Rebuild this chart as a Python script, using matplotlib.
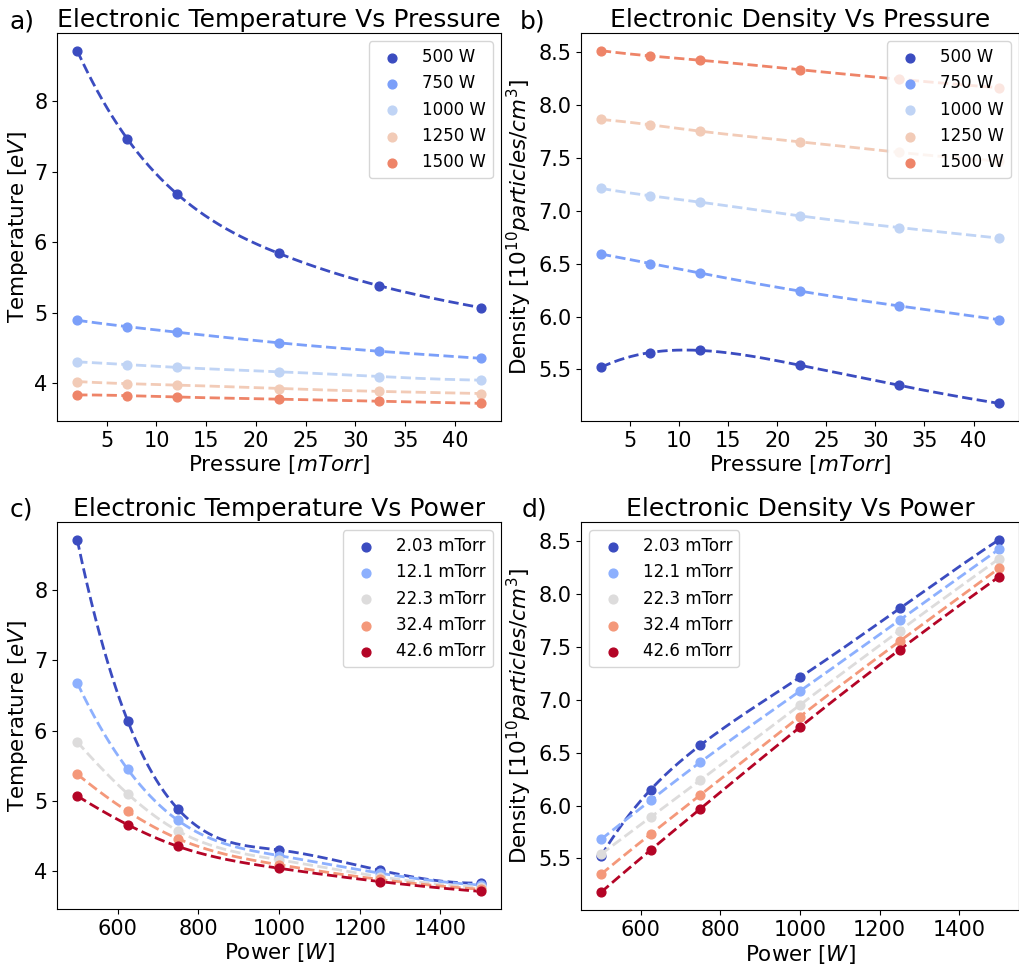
import numpy as np
import matplotlib
matplotlib.use("Agg")
import matplotlib.pyplot as plt

# Operating points
pressures_mtorr = [2.03, 7.05, 12.1, 22.3, 32.4, 42.6]
powers_w = [500, 625, 750, 1000, 1250, 1500]

# Electron temperature [eV] vs pressure, one series per power
power_labels = ["500 W", "750 W", "1000 W", "1250 W", "1500 W"]
te_500w = [8.72, 7.47, 6.68, 5.84, 5.38, 5.07]
te_750w = [4.89, 4.80, 4.72, 4.57, 4.45, 4.35]
te_1000w = [4.30, 4.26, 4.22, 4.16, 4.09, 4.04]
te_1250w = [4.02, 3.99, 3.97, 3.92, 3.88, 3.85]
te_1500w = [3.83, 3.82, 3.80, 3.77, 3.74, 3.71]

# Electron density [1e10 cm^-3] vs pressure, one series per power
ne_500w = [5.52, 5.66, 5.68, 5.54, 5.35, 5.18]
ne_750w = [6.59, 6.50, 6.41, 6.24, 6.10, 5.97]
ne_1000w = [7.21, 7.14, 7.08, 6.95, 6.84, 6.74]
ne_1250w = [7.86, 7.81, 7.75, 7.65, 7.55, 7.47]
ne_1500w = [8.51, 8.46, 8.42, 8.33, 8.24, 8.16]

# Electron temperature [eV] vs power, one series per pressure
pressure_labels = ["2.03 mTorr", "12.1 mTorr", "22.3 mTorr", "32.4 mTorr", "42.6 mTorr"]
te_2p03 = [8.72, 6.14, 4.88, 4.30, 4.01, 3.83]
te_12p1 = [6.68, 5.45, 4.72, 4.22, 3.97, 3.80]
te_22p3 = [5.84, 5.10, 4.57, 4.16, 3.92, 3.77]
te_32p4 = [5.38, 4.85, 4.46, 4.09, 3.88, 3.74]
te_42p6 = [5.07, 4.66, 4.35, 4.04, 3.85, 3.71]

# Electron density [1e10 cm^-3] vs power, one series per pressure
ne_2p03 = [5.52, 6.15, 6.57, 7.21, 7.86, 8.51]
ne_12p1 = [5.68, 6.05, 6.41, 7.08, 7.75, 8.42]
ne_22p3 = [5.54, 5.89, 6.24, 6.95, 7.65, 8.33]
ne_32p4 = [5.35, 5.73, 6.10, 6.84, 7.55, 8.24]
ne_42p6 = [5.18, 5.58, 5.97, 6.74, 7.47, 8.16]

pressure_ticks = [5, 10, 15, 20, 25, 30, 35, 40]
temperature_ticks = [4, 5, 6, 7, 8]


def cubic_spline(x, y, n=400):
    """Not-a-knot cubic spline through (x, y), evaluated on a fine grid."""
    x = np.asarray(x, float)
    y = np.asarray(y, float)
    m = len(x)
    h = np.diff(x)
    A = np.zeros((m, m))
    b = np.zeros(m)
    for i in range(1, m - 1):
        A[i, i - 1] = h[i - 1]
        A[i, i] = 2 * (h[i - 1] + h[i])
        A[i, i + 1] = h[i]
        b[i] = 6 * ((y[i + 1] - y[i]) / h[i] - (y[i] - y[i - 1]) / h[i - 1])
    # not-a-knot end conditions
    A[0, 0] = -1 / h[0]
    A[0, 1] = 1 / h[0] + 1 / h[1]
    A[0, 2] = -1 / h[1]
    A[-1, -3] = -1 / h[-2]
    A[-1, -2] = 1 / h[-2] + 1 / h[-1]
    A[-1, -1] = -1 / h[-1]
    M = np.linalg.solve(A, b)
    xs = np.linspace(x[0], x[-1], n)
    idx = np.clip(np.searchsorted(x, xs) - 1, 0, m - 2)
    x0, x1 = x[idx], x[idx + 1]
    hh = x1 - x0
    t0 = x1 - xs
    t1 = xs - x0
    ys = (M[idx] * t0 ** 3 / (6 * hh) + M[idx + 1] * t1 ** 3 / (6 * hh)
          + (y[idx] / hh - M[idx] * hh / 6) * t0
          + (y[idx + 1] / hh - M[idx + 1] * hh / 6) * t1)
    return xs, ys


W, H = 1020, 965
fig = plt.figure(figsize=(W / 100, H / 100), dpi=100)


def add_axes(left, top, right, bottom):
    return fig.add_axes([left / W, 1 - bottom / H, (right - left) / W, (bottom - top) / H])


ax_a = add_axes(57, 33, 501, 421)
ax_b = add_axes(581, 33, 1019, 421)
ax_c = add_axes(57, 522, 501, 909)
ax_d = add_axes(581, 522, 1019, 910)

power_colors = plt.cm.coolwarm(np.linspace(0, 1, 6))[:5]
pressure_colors = plt.cm.coolwarm(np.linspace(0, 1, 5))

density_label = r"Density [$10^{10} particles/cm^3$]"
temp_label = r"Temperature [$eV$]"

panels = [
    (ax_a, pressures_mtorr, [te_500w, te_750w, te_1000w, te_1250w, te_1500w],
     power_labels, power_colors, "Electronic Temperature Vs Pressure",
     r"Pressure [$mTorr$]", temp_label, "upper right", "a)", 10, 28),
    (ax_b, pressures_mtorr, [ne_500w, ne_750w, ne_1000w, ne_1250w, ne_1500w],
     power_labels, power_colors, "Electronic Density Vs Pressure",
     r"Pressure [$mTorr$]", density_label, "upper right", "b)", 520, 28),
    (ax_c, powers_w, [te_2p03, te_12p1, te_22p3, te_32p4, te_42p6],
     pressure_labels, pressure_colors, "Electronic Temperature Vs Power",
     r"Power [$W$]", temp_label, "upper right", "c)", 10, 516),
    (ax_d, powers_w, [ne_2p03, ne_12p1, ne_22p3, ne_32p4, ne_42p6],
     pressure_labels, pressure_colors, "Electronic Density Vs Power",
     r"Power [$W$]", density_label, "upper left", "d)", 522, 516),
]

for ax, xs, series, labels, colors, title, xlabel, ylabel, loc, tag, tx, ty in panels:
    for ys, lab, col in zip(series, labels, colors):
        fx, fy = cubic_spline(xs, ys)
        ax.plot(fx, fy, linestyle="--", color=col, linewidth=2)
        ax.scatter(xs, ys, color=col, s=40, label=lab, zorder=3)
    ax.set_title(title, fontsize=18, pad=4)
    ax.set_xlabel(xlabel, fontsize=15.5, labelpad=2)
    ax.set_ylabel(ylabel, fontsize=15.5, labelpad=3)
    ax.tick_params(labelsize=15)
    ax.legend(loc=loc, fontsize=12)
    fig.text(tx / W, 1 - ty / H, tag, fontsize=18, va="baseline", ha="left")

for ax in (ax_a, ax_b):
    ax.set_xticks(pressure_ticks)
for ax in (ax_a, ax_c):
    ax.set_yticks(temperature_ticks)

fig.savefig("out.png", dpi=100)
